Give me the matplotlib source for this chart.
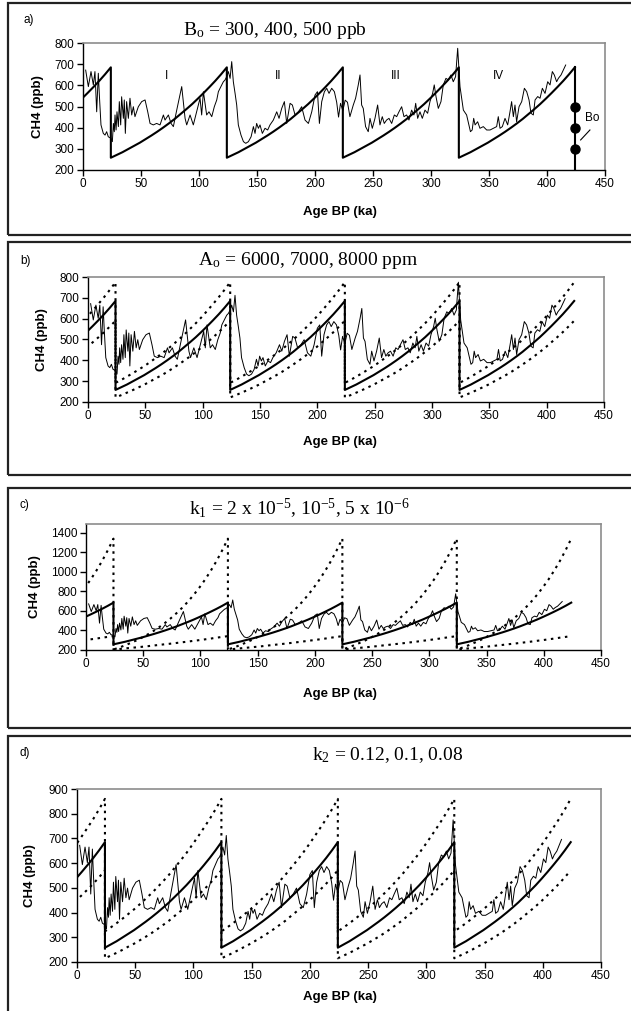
import matplotlib
matplotlib.use("Agg")
import matplotlib.pyplot as plt
from matplotlib.patches import Rectangle

plt.rcParams['font.family'] = 'Liberation Sans'
plt.rcParams['mathtext.fontset'] = 'custom'
plt.rcParams['mathtext.rm'] = 'Liberation Serif'
plt.rcParams['mathtext.it'] = 'Liberation Serif:italic'

W, H = 631, 1011

# Vostok CH4 record
age = [2.3, 4.6, 6.9, 8.9, 10.3, 11.8, 13.2, 14.1, 15.5, 17.5, 19.0, 20.4, 21.8, 24.1,
       25.3, 26.2, 27.0, 27.6, 28.5, 29.3, 30.5, 31.3, 32.5, 33.3, 34.8, 35.6, 36.5,
       37.6, 39.1, 40.5, 42.0, 43.4, 44.8, 47.7, 50.6, 53.5, 55.8, 57.8, 60.6, 63.5,
       66.4, 69.3, 70.7, 73.6, 75.9, 77.9, 80.8, 85.1, 88.0, 89.4, 92.3, 95.1, 98.0,
       100.9, 102.3, 103.8, 106.6, 108.6, 111.0, 113.2, 115.3, 116.7, 118.1, 119.6,
       121.0, 122.4, 123.9, 125.3, 126.8, 128.2, 129.6, 131.1, 132.5, 133.9, 136.2,
       138.3, 140.3, 142.6, 144.9, 146.9, 148.3, 149.7, 151.2, 152.6, 154.6, 156.9,
       159.2, 161.2, 164.1, 167.0, 169.0, 171.3, 173.6, 175.6, 178.5, 180.5, 182.8,
       185.7, 188.5, 191.4, 194.3, 197.2, 200.0, 202.1, 203.8, 205.8, 208.1, 210.1,
       212.1, 214.4, 216.7, 218.7, 220.3, 222.0, 224.0, 226.0, 228.0, 230.1, 233.0,
       235.0, 237.3, 238.8, 240.2, 241.6, 243.6, 245.9, 247.4, 249.4, 251.7, 254.0,
       256.0, 258.0, 259.7, 261.7, 263.8, 266.1, 268.4, 270.4, 272.4, 274.7, 276.7,
       279.0, 281.0, 283.3, 285.3, 286.8, 288.5, 290.5, 292.5, 294.8, 297.1, 299.1,
       301.4, 302.8, 304.3, 306.3, 308.6, 310.6, 312.9, 314.9, 317.2, 319.2, 321.2,
       323.0, 325.0, 327.9, 330.7, 332.4, 334.0, 335.5, 336.8, 338.0, 340.2, 342.2,
       345.1, 348.0, 350.9, 353.7, 356.6, 358.0, 359.5, 361.5, 363.8, 366.1, 368.1,
       369.5, 371.0, 372.4, 373.8, 375.9, 378.2, 380.5, 382.5, 384.5, 386.2, 388.2,
       389.7, 392.0, 394.0, 396.0, 398.3, 400.6, 402.6, 404.6, 406.3, 408.3, 409.8,
       412.1, 414.1, 416.1]
ch4 = [672, 594, 665, 602, 665, 475, 657, 554, 413, 373, 365, 381, 357, 350,
       334, 420, 381, 460, 389, 475, 405, 523, 413, 546, 444, 531, 373,
       523, 444, 539, 460, 499, 452, 499, 523, 531, 475, 420, 413, 420,
       413, 460, 436, 460, 420, 405, 483, 594, 444, 413, 460, 413, 475,
       539, 460, 570, 460, 475, 452, 499, 531, 570, 586, 602,
       617, 625, 641, 665, 633, 712, 617, 562, 507, 413, 365,
       334, 326, 334, 357, 405, 373, 420, 397, 413, 373, 397,
       389, 413, 436, 475, 444, 491, 523, 420, 515, 507, 460,
       475, 499, 436, 420, 475, 554, 570, 420, 523, 570, 586,
       562, 586, 570, 520, 450, 515, 480, 530, 520, 452, 507,
       539, 602, 649, 507, 491, 405, 381, 444, 397, 444, 507,
       413, 452, 420, 436, 444, 420, 460, 452, 475, 499, 452,
       460, 436, 483, 460, 515, 444, 475, 444, 483, 468, 523,
       562, 602, 547, 491, 523, 602, 633, 625, 649, 617, 641,
       775, 594, 483, 460, 420, 381, 389, 444, 413, 428, 397,
       405, 389, 389, 397, 405, 452, 397, 405, 444, 413, 475,
       523, 452, 507, 428, 499, 523, 586, 570, 531, 468, 460,
       531, 547, 539, 586, 562, 617, 602, 665, 649, 617, 633,
       649, 672, 696]

# model curves: one 100 ka cycle, value vs time since cycle start
cycle_s = [0, 5, 10, 15, 20, 25, 30, 35, 40, 45, 50, 55, 60, 65, 70, 75, 80, 85, 90, 95, 100]
cycle_end = [24, 124, 224, 324, 424]
base = [258, 271, 284, 299, 314, 329, 346, 363, 381, 400, 420, 441, 464, 487, 511, 537, 564, 592, 621, 652, 685]
a0_hi = [292, 306, 322, 338, 355, 372, 391, 411, 431, 452, 475, 499, 524, 551, 578, 607, 638, 670, 703, 738, 775]
a0_lo = [222, 233, 245, 257, 270, 283, 298, 313, 328, 344, 362, 380, 399, 419, 440, 462, 486, 510, 535, 562, 590]
k1_hi = [205, 225, 247, 272, 298, 328, 360, 395, 434, 477, 524, 576, 632, 694, 763, 838, 920, 1011, 1110, 1220, 1340]
k1_lo = [205, 210, 216, 222, 227, 233, 239, 246, 252, 259, 265, 272, 279, 286, 294, 301, 309, 317, 326, 334, 342]
k2_hi = [324, 340, 357, 375, 394, 413, 434, 456, 478, 502, 527, 553, 582, 611, 641, 674, 708, 743, 779, 818, 860]
k2_lo = [215, 226, 237, 249, 262, 274, 288, 302, 317, 333, 350, 367, 387, 406, 426, 447, 470, 493, 517, 543, 571]

bo_values = [300, 400, 500]
roman = ['I', 'II', 'III', 'IV']
roman_age = [72, 168, 270, 358]


def sawtooth(profile):
    xs, ys = [], []
    for e in cycle_end:
        xs += [e - 100 + s for s in cycle_s]
        ys += list(profile)
    return xs, ys


def fx(x):
    return x / W


def fy(y):
    return 1 - y / H


fig = plt.figure(figsize=(W / 100, H / 100), dpi=100)

# panel frames (pixels: top, bottom)
for top, bot in [(3, 235), (242, 475), (488, 728), (736, 1020)]:
    fig.patches.append(Rectangle((fx(8), fy(bot)), fx(640) - fx(8), fy(top) - fy(bot),
                                 transform=fig.transFigure, fill=False,
                                 lw=1.6, ec='#222222'))

panels = [
    dict(lab='a)', lab_xy=(24, 20), box=(83, 605, 43, 170), ylim=(200, 800),
         yticks=range(200, 801, 100), title=r'$\mathrm{B_o}$ = 300, 400, 500 ppb',
         title_xy=(275, 35), dotted=[], ylab_x=38, xlab_y=212),
    dict(lab='b)', lab_xy=(20, 261), box=(88, 604, 277, 402), ylim=(200, 800),
         yticks=range(200, 801, 100), title=r'$\mathrm{A_o}$ = 6000, 7000, 8000 ppm',
         title_xy=(308, 265), dotted=[a0_hi, a0_lo], ylab_x=42, xlab_y=442),
    dict(lab='c)', lab_xy=(20, 505), box=(86, 601, 524, 650), ylim=(200, 1490),
         yticks=range(200, 1401, 200),
         title=r'$\mathrm{k_1}$ = 2 x 10$^{\mathrm{-5}}$, 10$^{\mathrm{-5}}$, 5 x 10$^{\mathrm{-6}}$',
         title_xy=(299, 515), dotted=[k1_hi, k1_lo], ylab_x=35, xlab_y=694),
    dict(lab='d)', lab_xy=(20, 753), box=(77, 601, 789, 962), ylim=(200, 900),
         yticks=range(200, 901, 100), title=r'$\mathrm{k_2}$ = 0.12, 0.1, 0.08',
         title_xy=(388, 760), dotted=[k2_hi, k2_lo], ylab_x=30, xlab_y=997),
]

for i, p in enumerate(panels):
    l, r, t, b = p['box']
    ax = fig.add_axes([fx(l), fy(b), fx(r) - fx(l), fy(t) - fy(b)])
    ax.set_xlim(0, 450)
    ax.set_ylim(*p['ylim'])
    ax.set_xticks(range(0, 451, 50))
    ax.set_yticks(list(p['yticks']))
    ax.tick_params(direction='out', length=4, width=1, labelsize=8.5, pad=2, colors='black')
    for side in ['top', 'right']:
        ax.spines[side].set_color('#8c8c8c')
        ax.spines[side].set_linewidth(1.2)
    for side in ['left', 'bottom']:
        ax.spines[side].set_color('black')
        ax.spines[side].set_linewidth(1.0)

    ax.plot(age, ch4, color='black', lw=0.7)
    xs, ys = sawtooth(base)
    ax.plot(xs, ys, color='black', lw=1.5)
    for prof in p['dotted']:
        xs, ys = sawtooth(prof)
        ax.plot(xs, ys, color='black', lw=1.5, linestyle=(0, (1.2, 2.2)))

    if i == 0:
        ax.plot([cycle_end[-1], cycle_end[-1]], [p['ylim'][0], base[-1]], color='black', lw=1.5)
        ax.plot([cycle_end[-1]] * len(bo_values), bo_values, 'o', color='black', ms=6.5)
        ax.plot([429, 437], [342, 389], color='black', lw=0.8)
        ax.text(433, 445, 'Bo', fontsize=8.5, ha='left', va='center')
        for s, a in zip(roman, roman_age):
            ax.text(a, 645, s, fontsize=8.5, ha='center', va='center')

    fig.text(fx(p['lab_xy'][0]), fy(p['lab_xy'][1]), p['lab'], fontsize=8.5, ha='left', va='center')
    fig.text(fx(p['title_xy'][0]), fy(p['title_xy'][1]), p['title'], fontsize=14,
             ha='center', va='baseline', family='Liberation Serif')
    fig.text(fx(p['ylab_x']), (fy(t) + fy(b)) / 2, 'CH4 (ppb)', rotation=90,
             fontsize=9.5, fontweight='bold', ha='center', va='center')
    fig.text(fx(340), fy(p['xlab_y']), 'Age BP (ka)', fontsize=9.5,
             fontweight='bold', ha='center', va='center')

fig.savefig('out.png', dpi=100)
